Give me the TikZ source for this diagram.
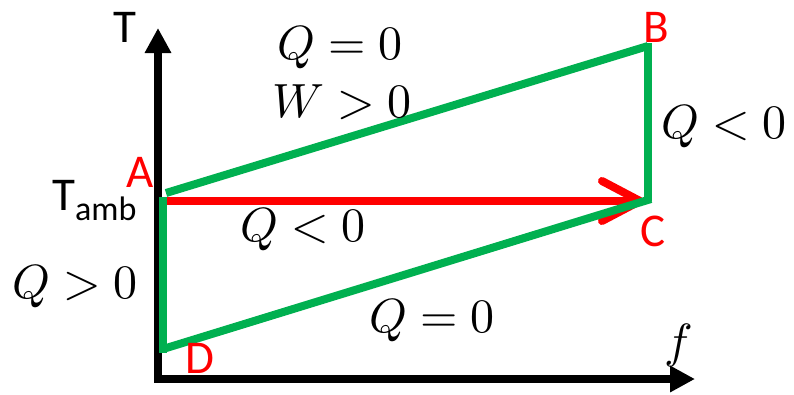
\documentclass[tikz,border=0pt]{standalone}
\usepackage{unicode-math}
\newfontfamily\lab{Carlito}
\usetikzlibrary{arrows.meta}
\definecolor{pgreen}{RGB}{0,176,80}
\definecolor{pred}{RGB}{255,0,0}
\begin{document}
\begin{tikzpicture}[x=1pt,y=-1pt,
  axisline/.style={line width=8pt,line join=miter,{Triangle[length=25pt,width=25pt]}-{Triangle[length=25pt,width=25pt]}},
  cycleline/.style={line width=8pt,draw=pgreen},
  procarrow/.style={line width=8pt,draw=pred,-{Straight Barb[length=38pt,width=40pt,round]}},
  ptlabel/.style={text=pred,font=\lab\fontsize{47}{47}\selectfont,inner sep=0pt,anchor=base},
  axlabel/.style={font=\lab\fontsize{47}{47}\selectfont,inner sep=0pt,anchor=base},
  mathlabel/.style={font=\fontsize{48}{48}\selectfont,inner sep=0pt,anchor=base}]
\useasboundingbox (0,0) rectangle (794,394);
% axes
\coordinate (O) at (158,379);
\coordinate (Xend) at (695,379);
\coordinate (Yend) at (158,28);
\draw[axisline] (Xend) -- (O) -- (Yend);
% cycle points
\coordinate (A) at (163,197);
\coordinate (A1) at (166,193);
\coordinate (Ar) at (166,201);
\coordinate (B) at (648,46);
\coordinate (Btop) at (648,43);
\coordinate (C) at (648,201);
\coordinate (Ct) at (644,201);
\coordinate (D) at (163,349);
\coordinate (Dbot) at (163,353);
\coordinate (C1) at (651,199);
% red isothermal arrow
\draw[procarrow] (Ar) -- (Ct);
% green cycle
\draw[cycleline] (A1) -- (B);
\draw[cycleline] (Btop) -- (C);
\draw[cycleline] (D) -- (C1);
\draw[cycleline] (A) -- (Dbot);
% labels
\node[axlabel] (tlab) at (125,42) {T};
\node[axlabel,anchor=base west] (tamb) at (52,210) {T\raisebox{-10pt}{\fontsize{34}{34}\selectfont amb}};
\node[ptlabel] (alab) at (140,187) {A};
\node[ptlabel] (blab) at (656,42) {B};
\node[ptlabel] (clab) at (653,246) {C};
\node[ptlabel] (dlab) at (200,373) {D};
\node[mathlabel] (flab) at (678,357) {$f$};
\node[mathlabel] (q1) at (340,59) {$Q=0$};
\node[mathlabel] (w1) at (342,117) {$W>0$};
\node[mathlabel] (q2) at (724,138) {$Q<0$};
\node[mathlabel] (q3) at (303,241) {$Q<0$};
\node[mathlabel] (q4) at (432,332) {$Q=0$};
\node[mathlabel] (q5) at (75,298) {$Q>0$};
\end{tikzpicture}
\end{document}
